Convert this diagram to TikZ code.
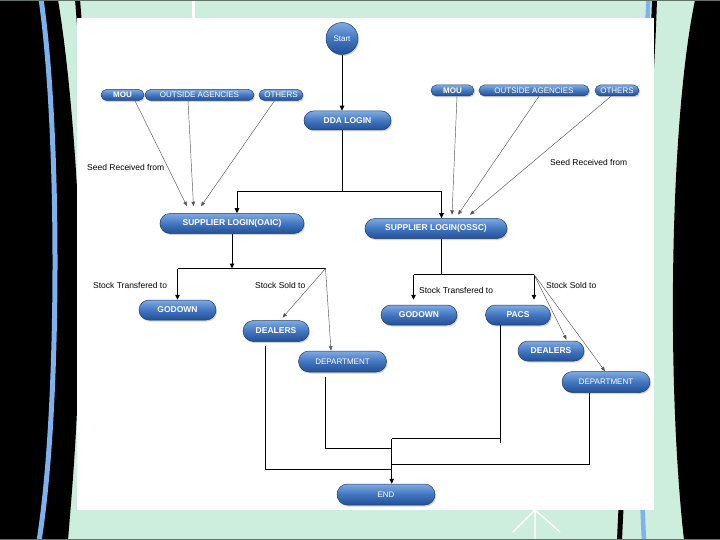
\documentclass[tikz,border=0pt]{standalone}
\usepackage{fontspec}
\setmainfont{Liberation Sans}
\usetikzlibrary{arrows.meta,shapes.misc,shadows}
\definecolor{bggreen}{RGB}{205,238,220}
\definecolor{bluel}{RGB}{125,178,238}
\definecolor{ntop}{RGB}{128,170,226}
\definecolor{nmid}{RGB}{66,118,192}
\definecolor{nbot}{RGB}{34,80,148}
\definecolor{nedge}{RGB}{30,62,115}
\definecolor{thinc}{RGB}{85,85,85}
\definecolor{bordergray}{RGB}{95,115,105}
\begin{document}
\begin{tikzpicture}[x=1pt,y=-1pt,
  flow/.style={rounded rectangle, draw=nedge, line width=0.5pt, top color=ntop, bottom color=nbot, middle color=nmid, text=white, font=\fontsize{8}{9}\selectfont\bfseries, inner sep=0pt, drop shadow={opacity=0.35,shadow xshift=1pt,shadow yshift=-1.5pt}},
  src/.style={flow, minimum height=11pt},
  big/.style={flow, minimum height=20pt, font=\fontsize{8.5}{10}\selectfont\bfseries},
  lite/.style={font=\fontsize{8}{9}\selectfont},
  lbl/.style={font=\fontsize{8.5}{10}\selectfont, inner sep=0pt, anchor=west, text=black},
  main/.style={line width=1pt, black},
  thinl/.style={line width=0.45pt, thinc},
  arr/.style={-{Triangle[length=5pt,width=4.5pt]}},
  tarr/.style={-{Triangle[length=4.5pt,width=3.5pt]}}]
\useasboundingbox (0,0) rectangle (720,540);
% background
\fill[bggreen] (0,0) rectangle (720,540);
\fill[black] (0,0) -- (58,0) .. controls (70,70) and (80,200) .. (80,280) .. controls (80,400) and (73,480) .. (68,540) -- (0,540) -- cycle;
\draw[black, line width=5pt] (77.5,-1) -- (79.5,25);
\draw[bluel, line width=5pt] (41,-1) .. controls (60,130) and (60,410) .. (39,541);
\fill[black] (720,0) -- (695,0) .. controls (670,120) and (666,380) .. (684,540) -- (720,540) -- cycle;
\draw[black, line width=5pt] (654.5,-1) .. controls (650,150) and (625,400) .. (619.5,541);
\draw[bluel, line width=4.5pt] (648.5,-1) .. controls (640,180) and (636,380) .. (644,541);
\draw[white, line width=3pt] (193.5,0) -- (193.5,20);
\draw[white, line width=1.5pt] (535,510) -- (513,532) (535,510) -- (535,540) (535,510) -- (560,532);
\draw[bordergray, line width=1pt] (0,0.5) -- (720,0.5) (0,539.5) -- (720,539.5);
\fill[white] (77,18) rectangle (654,510);
% nodes
\node[flow, circle, minimum size=32pt, lite] (start) at (342,38.5) {Start};
\node[big, minimum width=87pt, minimum height=19pt] (dda) at (347.5,120.5) {DDA LOGIN};
\node[src, minimum width=43pt] (lmou) at (122.5,95) {MOU};
\node[src, minimum width=109pt, lite] (lout) at (199.5,95) {OUTSIDE AGENCIES};
\node[src, minimum width=44pt, lite] (loth) at (281,95) {OTHERS};
\node[src, minimum width=43pt] (rmou) at (452.5,90.5) {MOU};
\node[src, minimum width=110pt, lite] (rout) at (534,90.5) {OUTSIDE AGENCIES};
\node[src, minimum width=44pt, lite] (roth) at (617,90.5) {OTHERS};
\node[big, minimum width=144pt] (oaic) at (232,223.5) {SUPPLIER LOGIN(OAIC)};
\node[big, minimum width=142pt] (ossc) at (436,228.5) {SUPPLIER LOGIN(OSSC)};
\node[big, minimum width=77pt] (lgod) at (177.5,310) {GODOWN};
\node[big, minimum width=66pt, minimum height=21pt] (ldeal) at (276,331) {DEALERS};
\node[big, minimum width=88pt, minimum height=21pt, lite] (ldep) at (342.5,361.5) {DEPARTMENT};
\node[big, minimum width=76pt] (rgod) at (419,315) {GODOWN};
\node[big, minimum width=65pt] (pacs) at (518,315) {PACS};
\node[big, minimum width=66pt] (rdeal) at (551,351) {DEALERS};
\node[big, minimum width=88pt, minimum height=21pt, lite] (rdep) at (606,382) {DEPARTMENT};
\node[big, minimum width=98pt, minimum height=21pt, lite] (end) at (386,494.5) {END};
% labels
\node[lbl] (seedL) at (87,167) {Seed Received from};
\node[lbl] (seedR) at (550,162) {Seed Received from};
\node[lbl] (stL) at (93,285) {Stock Transfered to};
\node[lbl] (ssL) at (255,285) {Stock Sold to};
\node[lbl] (stR) at (419,290) {Stock Transfered to};
\node[lbl] (ssR) at (546,285) {Stock Sold to};
% connectors top
\coordinate (j1) at (342,192);
\draw[main,arr] (start.south) -- (start.south |- dda.north);
\draw[main] (start.south |- dda.south) -- (j1);
\draw[main,arr] (j1) -| ([xshift=5pt]oaic.north);
\draw[main,arr] (j1) -| ([xshift=5.5pt]ossc.north);
\draw[thinl,tarr] ([xshift=12.5pt]lmou.south) -- ([xshift=-45pt,yshift=7pt]oaic.north);
\draw[thinl,tarr] ([xshift=-11.5pt]lout.south) -- ([xshift=-38.5pt,yshift=7pt]oaic.north);
\draw[thinl,tarr] ([xshift=-6.5pt]loth.south) -- ([xshift=-31pt,yshift=7pt]oaic.north);
\draw[thinl,tarr] ([xshift=4.5pt]rmou.south) -- ([xshift=16pt,yshift=3.5pt]ossc.north);
\draw[thinl,tarr] ([xshift=5pt]rout.south) -- ([xshift=22pt,yshift=3.5pt]ossc.north);
\draw[thinl,tarr] ([xshift=-6pt]roth.south) -- ([xshift=34pt,yshift=3.5pt]ossc.north);
% OAIC branch
\coordinate (jL) at (232,268.5);
\coordinate (jLl) at (177.5,268.5);
\coordinate (jLr) at (325.5,268.5);
\draw[main,arr] (oaic.south) -- (jL);
\draw[main] (jLl) -- (jLr);
\draw[main,arr] (jLl) -- (lgod.north);
\draw[thinl,tarr] (jLr) -- ([xshift=6.5pt,yshift=2.5pt]ldeal.north);
\draw[thinl,tarr] (jLr) -- ([xshift=-11.5pt]ldep.north);
% OSSC branch
\coordinate (jR) at (441.5,274.5);
\coordinate (jRl) at (413.5,274.5);
\coordinate (jRr) at (534,274.5);
\draw[main] ([xshift=5.5pt]ossc.south) -- (jR);
\draw[main] (jRl) -- (jRr);
\draw[main,arr] (jRl) -- ([xshift=-5.5pt,yshift=5pt]rgod.north);
\draw[main,arr] (jRr) -- ([xshift=16pt,yshift=5pt]pacs.north);
\draw[thinl,tarr] (jRr) -- ([xshift=15.5pt,yshift=1pt]rdeal.north);
\draw[thinl,tarr] (jRr) -- ([xshift=-1pt]rdep.north);
% merge to END
\coordinate (mTop) at (391.7,438.7);
\coordinate (mDep) at (391.7,448.3);
\coordinate (mRdep) at (391.7,464.3);
\coordinate (mDeal) at (391.7,469);
\coordinate (pacsEnd) at (500.6,442.7);
\draw[main] ([xshift=-10.5pt,yshift=-4.5pt]ldeal.south) |- (mDeal);
\draw[main] ([xshift=-17pt,yshift=-5pt]ldep.south) |- (mDep);
\draw[main] (pacsEnd |- pacs.south) -- (pacsEnd);
\draw[main] (pacsEnd |- mTop) -- (mTop);
\draw[main] ([xshift=-17pt]rdep.south) |- (mRdep);
\draw[main,arr] (mTop) -- (mTop |- end.north);
\end{tikzpicture}
\end{document}
